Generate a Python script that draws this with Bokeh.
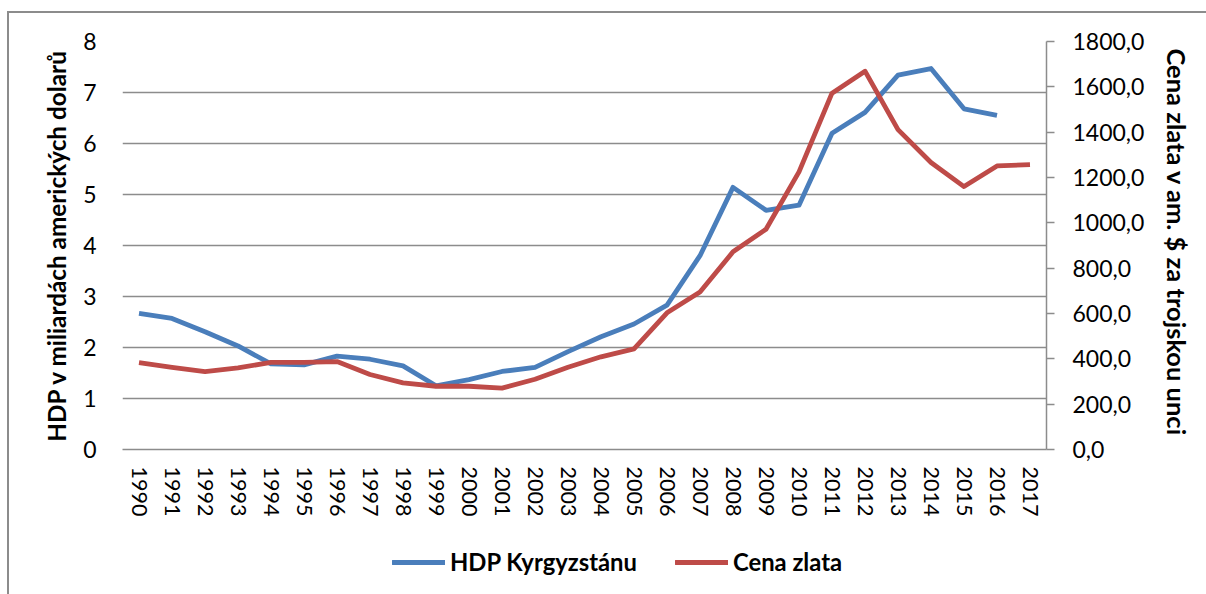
import numpy as np
from bokeh.plotting import figure
from bokeh.layouts import column
from bokeh.models import (ColumnDataSource, FactorRange, Range1d, LinearAxis, FixedTicker,
                          CustomJSTickFormatter, Legend, LegendItem)
from bokeh.embed import file_html
from bokeh.resources import INLINE

years = [str(y) for y in range(1990, 2018)]
gdp = [2.67, 2.57, 2.31, 2.03, 1.68, 1.66, 1.83, 1.77, 1.64, 1.25,
       1.37, 1.53, 1.61, 1.92, 2.21, 2.46, 2.83, 3.80, 5.14, 4.69,
       4.79, 6.20, 6.61, 7.34, 7.47, 6.68, 6.55, np.nan]
gold = [383, 362, 344, 360, 384, 384, 388, 331, 294, 279,
        279, 271, 310, 363, 409, 444, 603, 695, 872, 972,
        1225, 1572, 1669, 1411, 1266, 1160, 1251, 1257]
left_ticks = [0, 1, 2, 3, 4, 5, 6, 7, 8]
right_ticks = [0, 200, 400, 600, 800, 1000, 1200, 1400, 1600, 1800]
series_names = ["HDP Kyrgyzstánu", "Cena zlata"]

GRID = "#8c8c8c"
BLUE = "#4a7ebb"
RED = "#be4b48"
FONT = "Lato"
LINE = "linear-gradient(#8c8c8c, #8c8c8c)"

src = ColumnDataSource(dict(year=years, gdp=gdp, gold=gold))

p = figure(width=1206, height=530, x_range=FactorRange(factors=years),
           y_range=Range1d(0, 8), output_backend="svg", toolbar_location=None,
           min_border_left=122, min_border_right=160, min_border_top=41,
           min_border_bottom=81)
p.extra_y_ranges = {"gold": Range1d(0, 1800)}
p.outline_line_color = None
p.background_fill_color = "white"
p.border_fill_color = None
p.styles = {
    "background": (f"{LINE} 7px 11px / 2px 100% no-repeat, "
                   f"{LINE} 7px 11px / 100% 2px no-repeat, white"),
}

# grid
p.xgrid.grid_line_color = None
p.ygrid.grid_line_color = GRID
p.ygrid.grid_line_width = 1.5
p.ygrid.ticker = FixedTicker(ticks=left_ticks)

# left axis
ly = p.yaxis[0]
ly.ticker = FixedTicker(ticks=left_ticks)
ly.axis_line_color = None
ly.major_tick_line_color = None
ly.minor_tick_line_color = None
ly.major_label_standoff = 20
ly.major_label_text_font = FONT
ly.major_label_text_font_size = "23px"
ly.major_label_text_color = "black"
ly.axis_label = "HDP v miliardách amerických dolarů"
ly.axis_label_text_font = FONT
ly.axis_label_text_font_style = "bold"
ly.axis_label_text_font_size = "24.3px"
ly.axis_label_text_color = "black"
ly.axis_label_standoff = 9

# bottom axis
bx = p.xaxis[0]
bx.axis_line_color = GRID
bx.axis_line_width = 1.5
bx.major_tick_line_color = None
bx.minor_tick_line_color = None
bx.major_label_orientation = "vertical"
bx.major_label_standoff = 11
bx.major_label_text_font = FONT
bx.major_label_text_font_size = "21.5px"
bx.major_label_text_color = "black"

# right axis
ry = LinearAxis(y_range_name="gold", ticker=FixedTicker(ticks=right_ticks),
                formatter=CustomJSTickFormatter(code="return tick.toFixed(1).replace('.', ',');"))
ry.axis_line_color = GRID
ry.axis_line_width = 1.5
ry.major_tick_line_color = GRID
ry.major_tick_line_width = 1.5
ry.major_tick_out = 8
ry.major_tick_in = 0
ry.minor_tick_line_color = None
ry.major_label_standoff = 18
ry.major_label_text_font = FONT
ry.major_label_text_font_size = "23px"
ry.major_label_text_color = "black"
ry.axis_label = "Cena zlata  v am. $ za trojskou unci"
ry.axis_label_text_font = FONT
ry.axis_label_text_font_style = "bold"
ry.axis_label_text_font_size = "25.5px"
ry.axis_label_text_color = "black"
ry.axis_label_standoff = 15
p.add_layout(ry, "right")

p.line("year", "gdp", source=src, line_color=BLUE, line_width=4.8, line_join="round")
p.line("year", "gold", source=src, y_range_name="gold", line_color=RED,
       line_width=4.8, line_join="round")

# legend strip below the chart
lg = figure(width=1206, height=64, x_range=Range1d(0, 1), y_range=Range1d(0, 1),
            output_backend="svg", toolbar_location=None, x_axis_type=None, y_axis_type=None,
            min_border_left=0, min_border_right=0, min_border_top=0, min_border_bottom=0)
lg.grid.grid_line_color = None
lg.outline_line_color = None
lg.background_fill_color = None
lg.border_fill_color = None
lg.styles = {"background": f"{LINE} 7px 0px / 2px 100% no-repeat, white"}
d1 = lg.line(x=[np.nan, np.nan], y=[np.nan, np.nan], line_color=BLUE, line_width=4.8,
             line_cap="round")
d2 = lg.line(x=[np.nan, np.nan], y=[np.nan, np.nan], line_color=RED, line_width=4.8,
             line_cap="round")

legend = Legend(items=[LegendItem(label=series_names[0], renderers=[d1]),
                       LegendItem(label=series_names[1], renderers=[d2])],
                orientation="horizontal", location=(270, 18))
legend.border_line_color = None
legend.background_fill_alpha = 0
legend.padding = 0
legend.margin = 0
legend.spacing = 38
legend.glyph_width = 53
legend.glyph_height = 28
legend.label_height = 28
legend.label_standoff = 5
legend.label_text_font = FONT
legend.label_text_font_style = "bold"
legend.label_text_font_size = "23.8px"
legend.label_text_color = "black"
lg.add_layout(legend, "center")

layout = column(p, lg, spacing=0)
open("out.html", "w").write(file_html(layout, INLINE))
